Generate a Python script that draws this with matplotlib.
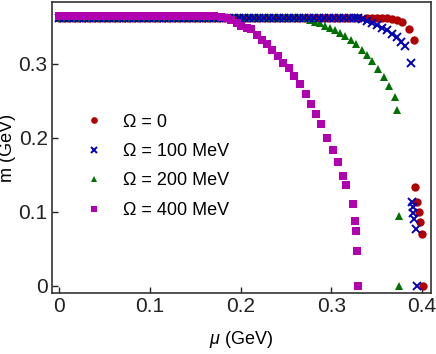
import matplotlib
matplotlib.use('Agg')
import matplotlib.pyplot as plt

plt.rcParams['font.family'] = ['Liberation Sans', 'DejaVu Sans']
plt.rcParams['mathtext.fontset'] = 'custom'
plt.rcParams['mathtext.it'] = 'Liberation Sans:italic'
plt.rcParams['mathtext.rm'] = 'Liberation Sans'

# common mu grid (GeV) on which the flat part of every curve sits
mu_grid = [0.0000, 0.0055, 0.0110, 0.0165, 0.0220, 0.0275, 0.0330, 0.0385, 0.0440, 0.0495,
           0.0550, 0.0605, 0.0660, 0.0715, 0.0770, 0.0825, 0.0880, 0.0935, 0.0990, 0.1045,
           0.1100, 0.1155, 0.1210, 0.1265, 0.1320, 0.1375, 0.1430, 0.1485, 0.1540, 0.1595,
           0.1650, 0.1705, 0.1760, 0.1815, 0.1870, 0.1925, 0.1980, 0.2035, 0.2090, 0.2145,
           0.2200, 0.2255, 0.2310, 0.2365, 0.2420, 0.2475, 0.2530, 0.2585, 0.2640, 0.2695,
           0.2750, 0.2805, 0.2860, 0.2915, 0.2970, 0.3025, 0.3080, 0.3135, 0.3190, 0.3245,
           0.3300]

# Omega = 0
mu_0 = mu_grid[:61] + [0.3389, 0.3444, 0.3499, 0.3554, 0.3609, 0.3664, 0.3719, 0.3774,
                       0.3855, 0.3913, 0.3920, 0.3943, 0.3965, 0.3980, 0.4000, 0.4010]
m_0 = [0.362, 0.362, 0.362, 0.362, 0.362, 0.362, 0.362, 0.362, 0.362, 0.362,
       0.362, 0.362, 0.362, 0.362, 0.362, 0.362, 0.362, 0.362, 0.362, 0.362,
       0.362, 0.362, 0.362, 0.362, 0.362, 0.362, 0.362, 0.362, 0.362, 0.362,
       0.362, 0.362, 0.362, 0.362, 0.362, 0.362, 0.362, 0.362, 0.362, 0.362,
       0.362, 0.362, 0.362, 0.362, 0.362, 0.362, 0.362, 0.362, 0.362, 0.362,
       0.362, 0.362, 0.362, 0.362, 0.362, 0.362, 0.362, 0.362, 0.362, 0.362,
       0.362,
       0.3617, 0.3617, 0.3617, 0.3617, 0.3617, 0.3608, 0.3595, 0.3563,
       0.3473, 0.332, 0.134, 0.1135, 0.0996, 0.086, 0.070, 0.0]

# Omega = 100 MeV
mu_100 = mu_grid[:60] + [0.3288, 0.3333, 0.3388, 0.3443, 0.3499, 0.3554, 0.3609, 0.3664,
                         0.3719, 0.3763, 0.3811, 0.3873, 0.3884, 0.3896, 0.3903, 0.3910,
                         0.3927, 0.3942]
m_100 = [0.362, 0.362, 0.362, 0.362, 0.362, 0.362, 0.362, 0.362, 0.362, 0.362,
         0.362, 0.362, 0.362, 0.362, 0.362, 0.362, 0.362, 0.362, 0.362, 0.362,
         0.362, 0.362, 0.362, 0.362, 0.362, 0.362, 0.362, 0.362, 0.362, 0.362,
         0.362, 0.362, 0.362, 0.362, 0.362, 0.362, 0.362, 0.362, 0.362, 0.362,
         0.362, 0.362, 0.362, 0.362, 0.362, 0.362, 0.362, 0.362, 0.362, 0.362,
         0.362, 0.362, 0.362, 0.362, 0.362, 0.362, 0.362, 0.362, 0.362, 0.362,
         0.362, 0.3608, 0.358, 0.356, 0.353, 0.349, 0.346, 0.341,
         0.337, 0.330, 0.324, 0.302, 0.114, 0.107, 0.099, 0.091,
         0.0765, 0.0]

# Omega = 200 MeV
mu_200 = mu_grid[:50] + [0.2764, 0.2820, 0.2874, 0.2930, 0.2985, 0.3040, 0.3095, 0.3150,
                         0.3213, 0.3270, 0.3334, 0.3390, 0.3444, 0.3510, 0.3583, 0.3638,
                         0.3700, 0.3726, 0.3740, 0.3747]
m_200 = [0.3615, 0.3615, 0.3615, 0.3615, 0.3615, 0.3615, 0.3615, 0.3615, 0.3615, 0.3615,
         0.3615, 0.3615, 0.3615, 0.3615, 0.3615, 0.3615, 0.3615, 0.3615, 0.3615, 0.3615,
         0.3615, 0.3615, 0.3615, 0.3615, 0.3615, 0.3615, 0.3615, 0.3615, 0.3615, 0.3615,
         0.3615, 0.3615, 0.3615, 0.3615, 0.3615, 0.3615, 0.3615, 0.3615, 0.3615, 0.3615,
         0.3615, 0.3615, 0.3615, 0.3615, 0.3615, 0.3615, 0.3615, 0.3615, 0.3615, 0.3615,
         0.3595, 0.357, 0.355, 0.352, 0.349, 0.346, 0.3415, 0.3375,
         0.332, 0.3266, 0.319, 0.312, 0.304, 0.2935, 0.282, 0.270,
         0.255, 0.238, 0.094, 0.0]

# Omega = 400 MeV
mu_400 = mu_grid[:32] + [0.1790, 0.1846, 0.1900, 0.1957, 0.2010, 0.2067, 0.2120, 0.2184,
                         0.2240, 0.2294, 0.2346, 0.2410, 0.2470, 0.2533, 0.2590, 0.2654,
                         0.2717, 0.2775, 0.2834, 0.2890, 0.2955, 0.3014, 0.3069, 0.3131,
                         0.3164, 0.3235, 0.3264, 0.3271, 0.3286, 0.3293]
m_400 = [0.365, 0.365, 0.365, 0.365, 0.365, 0.365, 0.365, 0.365, 0.365, 0.365,
         0.365, 0.365, 0.365, 0.365, 0.365, 0.365, 0.365, 0.365, 0.365, 0.365,
         0.365, 0.365, 0.365, 0.365, 0.365, 0.365, 0.365, 0.365, 0.365, 0.365,
         0.365, 0.365,
         0.364, 0.3617, 0.3595, 0.355, 0.3518, 0.3482, 0.347, 0.339,
         0.3324, 0.3266, 0.319, 0.311, 0.302, 0.295, 0.284, 0.273,
         0.260, 0.246, 0.232, 0.219, 0.200, 0.184, 0.168, 0.149,
         0.136, 0.111, 0.088, 0.074, 0.047, 0.0]

labels = ['Ω = 0', 'Ω = 100 MeV', 'Ω = 200 MeV', 'Ω = 400 MeV']
x_ticks = [0, 0.1, 0.2, 0.3, 0.4]
x_ticklabels = ['0', '0.1', '0.2', '0.3', '0.4']
y_ticks = [0, 0.1, 0.2, 0.3]
y_ticklabels = ['0', '0.1', '0.2', '0.3']

fig = plt.figure(figsize=(4.36, 3.54), dpi=100)
ax = fig.add_axes([0.119, 0.1723, 0.8695, 0.8221])

h0, = ax.plot(mu_0, m_0, 'o', color='#b00000', ms=6.0, mew=0, linestyle='none')
h2, = ax.plot(mu_200, m_200, '^', color='#007000', ms=6.0, mew=0, linestyle='none')
h1, = ax.plot(mu_100, m_100, 'x', color='#0000b4', ms=5.5, mew=1.4, linestyle='none')
h3, = ax.plot(mu_400, m_400, 's', color='#b000b0', ms=5.2, mew=0, linestyle='none')

ax.set_xlim(-0.0077, 0.4097)
ax.set_ylim(-0.0095, 0.3838)
ax.set_xticks(x_ticks)
ax.set_xticklabels(x_ticklabels)
ax.set_yticks(y_ticks)
ax.set_yticklabels(y_ticklabels)
ax.tick_params(direction='in', length=4, width=1, labelsize=15, pad=3, colors='#222222')
for s in ax.spines.values():
    s.set_color('#333333')
    s.set_linewidth(1.2)

ax.set_xlabel(r'$\mu$ (GeV)', fontsize=13, labelpad=9)
ax.set_ylabel('m (GeV)', fontsize=13, labelpad=2)

leg = ax.legend([h0, h1, h2, h3], labels, loc='upper left', bbox_to_anchor=(0.06, 0.66),
                frameon=False, fontsize=13, numpoints=1, handlelength=0.8,
                handletextpad=1.2, labelspacing=0.69, markerscale=0.8, borderpad=0.2)

fig.savefig('out.png', dpi=100)
